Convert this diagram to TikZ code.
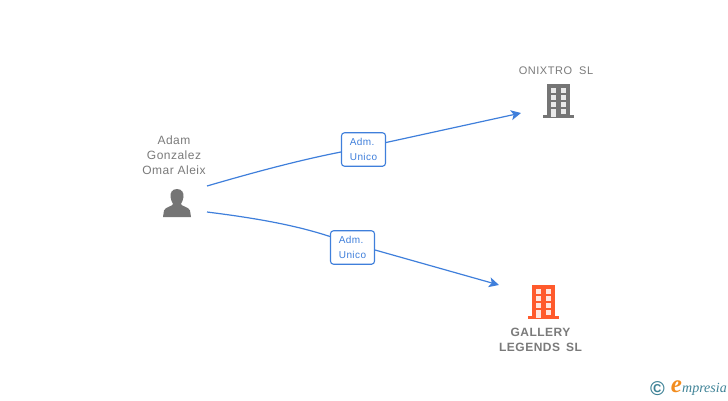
\documentclass[tikz,border=0pt]{standalone}
\usepackage{fontspec}
\setmainfont{Liberation Sans}
\newfontfamily\logofont{Liberation Serif}
\definecolor{linkblue}{HTML}{3F7FDB}
\definecolor{labelgrey}{HTML}{7A7A7A}
\definecolor{icongrey}{HTML}{757575}
\definecolor{iconorange}{HTML}{FF5A2C}
\definecolor{logoteal}{HTML}{3E8296}
\definecolor{logoorange}{HTML}{F28C1E}
\usetikzlibrary{arrows.meta}
\tikzset{
  linkline/.style={draw=linkblue,line width=1.2pt},
  arrowline/.style={linkline,-{Stealth[length=10pt,width=10pt,inset=2.5pt]}},
  rolebox/.style={draw=linkblue,fill=white,rounded corners=3pt,line width=1.1pt,inner sep=0pt,
    text=linkblue,font=\fontsize{10}{15}\selectfont\addfontfeatures{LetterSpace=4},align=left,
    minimum width=44pt,minimum height=33.5pt},
  personlabel/.style={text=labelgrey,font=\fontsize{12}{15}\selectfont\addfontfeatures{LetterSpace=4},align=center,inner sep=0pt},
  companylabel/.style={text=labelgrey,font=\fontsize{11}{15.5}\selectfont\addfontfeatures{LetterSpace=5},align=center,inner sep=0pt},
  companybold/.style={text=labelgrey,font=\bfseries\fontsize{12}{15}\selectfont\addfontfeatures{LetterSpace=4},align=center,inner sep=0pt},
}
\newcommand{\buildingicon}[3]{%
  \begin{scope}[shift={(#1,#2)}]
    \fill[#3] (-4.5,-1) rectangle (27,2);
    \fill[#3] (0,-32) rectangle (23,0);
    \foreach \wx in {4,14}{\foreach \wy in {-28.5,-21,-14}{\fill[white,opacity=.85] (\wx,\wy) rectangle ++(5,5);}}
    \fill[white,opacity=.85] (4,-7) rectangle ++(5,7.5);
    \fill[white,opacity=.85] (14,-7) rectangle ++(5,5);
  \end{scope}}
\begin{document}
\begin{tikzpicture}[x=1pt,y=-1pt]
\useasboundingbox (0,0) rectangle (728,400);
% person
\node[personlabel] (person) at (174,155) {Adam\\Gonzalez\\Omar Aleix};
\fill[icongrey] (177,189) .. controls (182,189) and (184,193) .. (183.5,197)
  .. controls (183.2,200) and (182,202) .. (181,204) .. controls (181.5,206.5) and (188.5,206.5) .. (190,210.5)
  -- (191,217) -- (163,217) -- (164,210.5) .. controls (165.5,206.5) and (172.5,206.5) .. (173,204)
  .. controls (172,202) and (170.8,200) .. (170.5,197) .. controls (170,193) and (172,189) .. (177,189) -- cycle;
% anchors
\coordinate (from1) at (207,186);
\coordinate (from2) at (207,212);
\coordinate (to1) at (521,113);
\coordinate (to2) at (499,285);
% role boxes
\node[rolebox] (role1) at (363.5,149.5) {Adm.\\Unico};
\node[rolebox] (role2) at (352.5,247.5) {Adm.\\Unico};
% companies
\buildingicon{547}{116}{icongrey}
\buildingicon{532}{317}{iconorange}
\node[companylabel] (onixtro) at (556,70.5) {ONIXTRO\hspace{7pt}SL};
\node[companybold] (gallery) at (540.5,340) {GALLERY\\LEGENDS\hspace{6pt}SL};
% connectors
\draw[linkline] (from1) .. controls (255,172) and (300,160) .. (role1.west|-0,152);
\draw[arrowline] (role1.east|-0,142.5) -- (to1);
\draw[linkline] (from2) .. controls (255,218) and (295,225) .. (role2.west|-0,236.5);
\draw[arrowline] (role2.east|-0,250) -- (to2);
% logo
\node[text=logoteal,font=\bfseries\fontsize{20}{20}\selectfont,inner sep=0pt] (copy) at (657.5,388.5) {©};
\node[text=logoorange,font=\logofont\bfseries\itshape\fontsize{25}{25}\selectfont,inner sep=0pt] (logoe) at (676.5,387) {e};
\node[text=logoteal,font=\logofont\itshape\fontsize{14}{14}\selectfont,inner sep=0pt,anchor=west] (logotext) at (682,389.5) {mpresia};
\end{tikzpicture}
\end{document}
